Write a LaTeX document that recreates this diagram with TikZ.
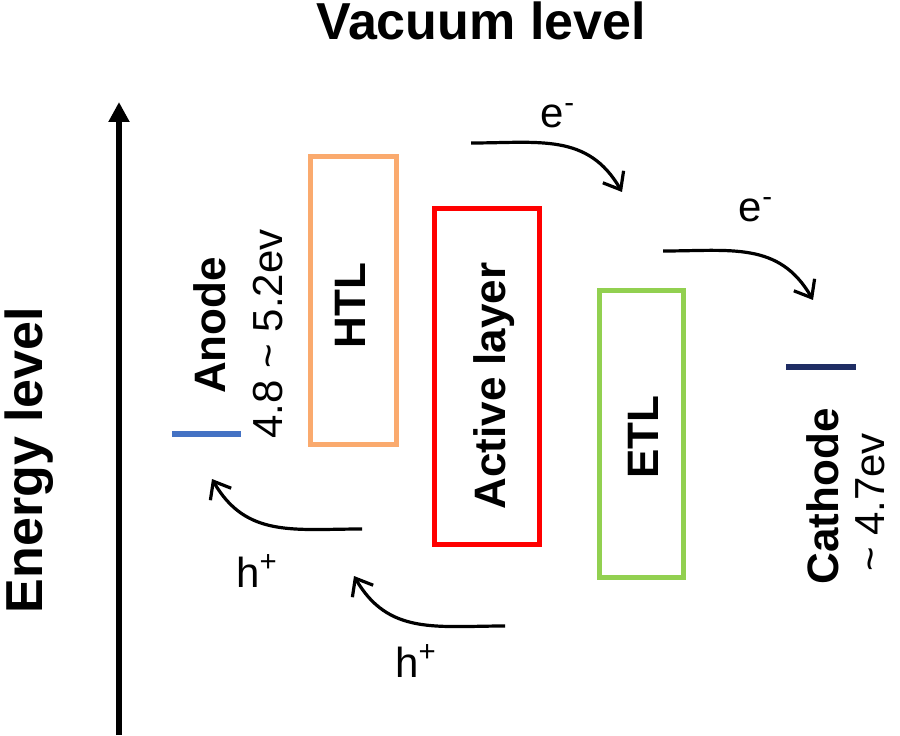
\documentclass[tikz,border=0pt]{standalone}
\usepackage{fontspec}
\setmainfont{Liberation Sans}
\usetikzlibrary{arrows.meta}
\definecolor{htlc}{RGB}{250,170,110}
\definecolor{alc}{RGB}{255,0,0}
\definecolor{etlc}{RGB}{146,208,80}
\definecolor{anodec}{RGB}{68,114,196}
\definecolor{cathc}{RGB}{31,45,100}
\begin{document}
\begin{tikzpicture}[x=0.5pt, y=0.5pt, >={Straight Barb[length=7.5pt,width=12pt]},
		bigtxt/.style={anchor=base, inner sep=0pt, font=\fontsize{26}{30}\selectfont\bfseries},
		vbold/.style={rotate=90, anchor=base, inner sep=0pt, font=\fontsize{22}{26}\selectfont\bfseries},
		vnote/.style={rotate=90, anchor=base, inner sep=0pt, font=\fontsize{21}{25}\selectfont},
		carrier/.style={anchor=base, inner sep=0pt, font=\fontsize{21}{25}\selectfont},
		layerbox/.style={line width=2.5pt},
		flow/.style={->, line width=1.6pt}]
		\useasboundingbox (0,0) rectangle (900,735);
		% axis and titles
		\draw[line width=3pt, -{Triangle[length=10pt,width=10pt]}] (119,0)--(119,633);
		\node[bigtxt] (vac) at (481,695) {Vacuum level};
		\node[bigtxt, rotate=90] (energy) at (42,275) {Energy level};
		% layers
		\draw[layerbox, htlc] (310.5,291) rectangle (396.5,578.5);
		\draw[layerbox, alc] (434.5,190.5) rectangle (539.5,526.5);
		\draw[layerbox, etlc] (599.5,157.5) rectangle (683.5,444.5);
		\node[vbold] (htl) at (365,429.5) {HTL};
		\node[vbold] (active) at (505,349) {Active layer};
		\node[vbold] (etl) at (658,298) {ETL};
		% electrodes
		\draw[line width=3pt, anodec] (172,301.5)--(241,301.5);
		\draw[line width=3pt, cathc] (786,368.5)--(856,368.5);
		\node[vbold] (anode) at (225,409.5) {Anode};
		\node[vnote] (anodewf) at (282,401) {4.8 \textasciitilde\ 5.2ev};
		\node[vbold] (cathode) at (838,238.5) {Cathode};
		\node[vnote] (cathwf) at (884,232.5) {\textasciitilde\ 4.7ev};
		% carriers
		\coordinate (e1s) at (471,592); \coordinate (e1e) at (622,543);
		\coordinate (e2s) at (663,484); \coordinate (e2e) at (813,435);
		\coordinate (h1s) at (362,206); \coordinate (h1e) at (212,256);
		\coordinate (h2s) at (505,109); \coordinate (h2e) at (354,159);
		\draw[flow] (e1s) to[out=0, in=120, looseness=1.1] (e1e);
		\draw[flow] (e2s) to[out=0, in=120, looseness=1.1] (e2e);
		\draw[flow] (h1s) to[out=180, in=-60, looseness=1.1] (h1e);
		\draw[flow] (h2s) to[out=180, in=-60, looseness=1.1] (h2e);
		\node[carrier] (e1) at (558,607) {e\textsuperscript{-}};
		\node[carrier] (e2) at (756,513) {e\textsuperscript{-}};
		\node[carrier] (h1) at (257,148) {h\textsuperscript{+}};
		\node[carrier] (h2) at (416,58) {h\textsuperscript{+}};
\end{tikzpicture}
\end{document}
